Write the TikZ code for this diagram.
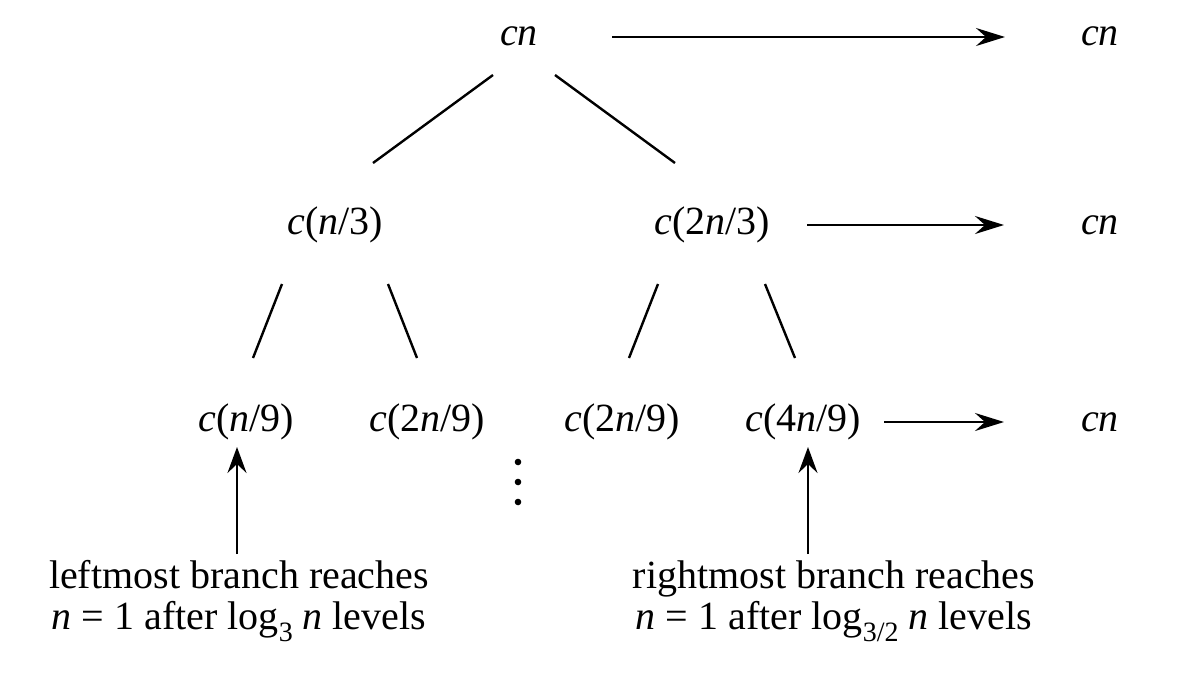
\documentclass[tikz,border=0pt]{standalone}
\usepackage{fontspec}
\setmainfont{Liberation Serif}
\usetikzlibrary{arrows.meta}
\newcommand{\lowsub}[1]{\raisebox{-0.32em}{\fontsize{28}{28}\selectfont #1}}
\tikzset{
  lbl/.style={anchor=base, inner sep=0pt, font=\fontsize{40}{36}\selectfont},
  note/.style={anchor=base, inner sep=0pt, align=center, font=\fontsize{40}{41}\selectfont},
  edge/.style={line width=2.4pt},
  arr/.style={line width=2.4pt, -{Stealth[length=29pt,width=18pt,inset=10pt]}}
}
\begin{document}
\begin{tikzpicture}[x=1pt,y=-1pt]
\useasboundingbox (0,0) rectangle (1192,673);
% level 0
\node[lbl] (root) at (519,45) {\textit{cn}};
\node[lbl] (s0) at (1100,45) {\textit{cn}};
% level 1
\node[lbl] (a) at (335,234) {\textit{c}(\textit{n}/3)};
\node[lbl] (b) at (712,234) {\textit{c}(2\textit{n}/3)};
\node[lbl] (s1) at (1100,234) {\textit{cn}};
% level 2
\node[lbl] (aa) at (246,431) {\textit{c}(\textit{n}/9)};
\node[lbl] (ab) at (427,431) {\textit{c}(2\textit{n}/9)};
\node[lbl] (ba) at (622,431) {\textit{c}(2\textit{n}/9)};
\node[lbl] (bb) at (803,431) {\textit{c}(4\textit{n}/9)};
\node[lbl] (s2) at (1100,431) {\textit{cn}};
% dots
\node[inner sep=0pt] (dots) at (518,482) {};
\foreach \yy in {-20,0,20} \fill ([yshift=\yy]dots) circle (3.3pt);
% notes
\node[note] (nl) at (239,629) {leftmost branch reaches\\\textit{n} = 1 after log\lowsub{3} \textit{n} levels};
\node[note] (nr) at (834,629) {rightmost branch reaches\\\textit{n} = 1 after log\lowsub{3/2} \textit{n} levels};
% tree edges
\coordinate (e1a) at (493,75);  \coordinate (e1b) at (373,163);
\coordinate (e2a) at (555,75);  \coordinate (e2b) at (675,163);
\coordinate (e3a) at (282,284); \coordinate (e3b) at (253,358);
\coordinate (e4a) at (388,284); \coordinate (e4b) at (417,358);
\coordinate (e5a) at (658,284); \coordinate (e5b) at (629,358);
\coordinate (e6a) at (765,284); \coordinate (e6b) at (795,358);
\draw[edge] (e1a) -- (e1b);
\draw[edge] (e2a) -- (e2b);
\draw[edge] (e3a) -- (e3b);
\draw[edge] (e4a) -- (e4b);
\draw[edge] (e5a) -- (e5b);
\draw[edge] (e6a) -- (e6b);
% horizontal arrows
\coordinate (h0a) at (612,37);  \coordinate (h0b) at (1005,37);
\coordinate (h1a) at (807,225); \coordinate (h1b) at (1004,225);
\coordinate (h2a) at (884,422); \coordinate (h2b) at (1004,422);
\draw[arr] (h0a) -- (h0b);
\draw[arr] (h1a) -- (h1b);
\draw[arr] (h2a) -- (h2b);
% vertical arrows
\coordinate (v1a) at (237,554); \coordinate (v1b) at (237,447);
\coordinate (v2a) at (808,554); \coordinate (v2b) at (808,447);
\draw[arr,-{Stealth[length=26pt,width=19pt,inset=9pt]}] (v1a) -- (v1b);
\draw[arr,-{Stealth[length=26pt,width=19pt,inset=9pt]}] (v2a) -- (v2b);
\end{tikzpicture}
\end{document}
